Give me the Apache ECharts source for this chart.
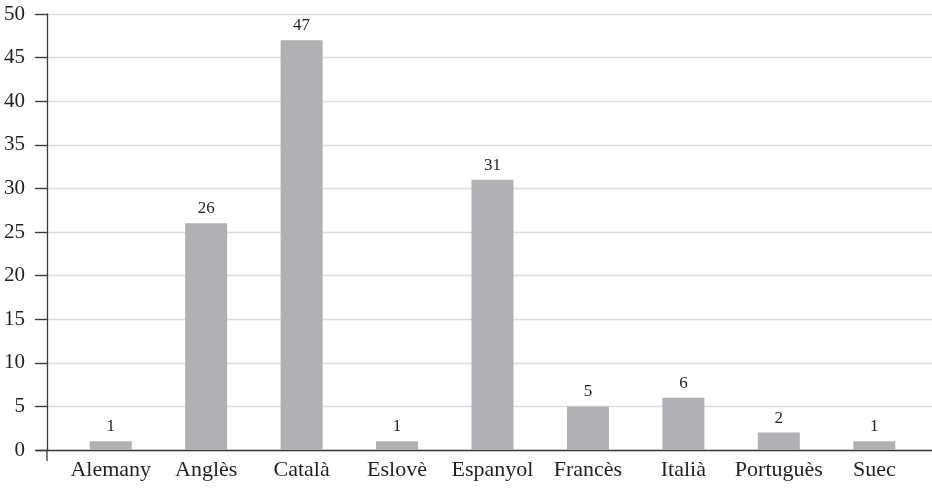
<!DOCTYPE html>
<html>
<head>
<meta charset="utf-8">
<script src="https://cdn.jsdelivr.net/npm/echarts@6/dist/echarts.min.js"></script>
<style>
  html, body { margin: 0; padding: 0; background: #ffffff; }
  #chart { width: 932px; height: 489px; }
</style>
</head>
<body>
<div id="chart"></div>
<script>
// Languages and counts
const categories = ['Alemany', 'Anglès', 'Català', 'Eslovè', 'Espanyol', 'Francès', 'Italià', 'Portuguès', 'Suec'];
const counts = [1, 26, 47, 1, 31, 5, 6, 2, 1];
const yMin = 0;
const yMax = 50;
const yStep = 5;

const FONT = '"Liberation Serif", "Times New Roman", serif';
const TEXT = '#231f20';
const AXIS = '#3a3a3a';

const chart = echarts.init(document.getElementById('chart'), null, { renderer: 'canvas' });

const option = {
  animation: false,
  backgroundColor: '#ffffff',
  grid: [
    { left: 63, right: 10, top: 14, bottom: 39 },   // bars
    { left: 36, right: 0, top: 14, bottom: 39 }     // wide gridlines + baseline
  ],
  xAxis: [
    {
      type: 'category', gridIndex: 0, data: categories,
      axisLine: { show: false }, axisTick: { show: false },
      axisLabel: { interval: 0, hideOverlap: false, color: TEXT, fontFamily: FONT, fontSize: 22, margin: 9 }
    },
    {
      type: 'value', gridIndex: 1, min: 0, max: 1,
      axisLine: { show: true, lineStyle: { color: AXIS, width: 1.3 } },
      axisTick: { show: false }, axisLabel: { show: false }, splitLine: { show: false }
    }
  ],
  yAxis: [
    {
      type: 'value', gridIndex: 0, min: yMin, max: yMax, interval: yStep, offset: 16, z: 5,
      axisLine: { show: true, lineStyle: { color: AXIS, width: 1.3 } },
      axisTick: { show: true, inside: false, length: 12, lineStyle: { color: AXIS, width: 1.3 } },
      axisLabel: { color: TEXT, fontFamily: FONT, fontSize: 21, margin: 22 },
      splitLine: { show: false }
    },
    {
      type: 'value', gridIndex: 1, min: yMin, max: yMax, interval: yStep,
      axisLine: { show: false }, axisTick: { show: false }, axisLabel: { show: false },
      splitLine: { show: true, lineStyle: { color: '#dcdcdc', width: 1.3 } }
    }
  ],
  series: [
    {
      type: 'bar', xAxisIndex: 0, yAxisIndex: 0, data: counts,
      barWidth: 42, z: 3,
      itemStyle: { color: '#b1b1b5' },
      label: { show: true, position: 'top', distance: 6, color: TEXT, fontFamily: FONT, fontSize: 17 }
    }
  ]
};
chart.setOption(option);

// short downward extension of the value axis below the baseline
const zeroY = chart.convertToPixel({ yAxisIndex: 0 }, yMin);
const axisRect = chart.getModel().getComponent('grid', 0).coordinateSystem.getRect();
chart.setOption({
  graphic: [{
    type: 'line', z: 10,
    shape: { x1: axisRect.x - 16, y1: zeroY, x2: axisRect.x - 16, y2: zeroY + 11 },
    style: { stroke: AXIS, lineWidth: 1.3 }
  }]
});
</script>
</body>
</html>
